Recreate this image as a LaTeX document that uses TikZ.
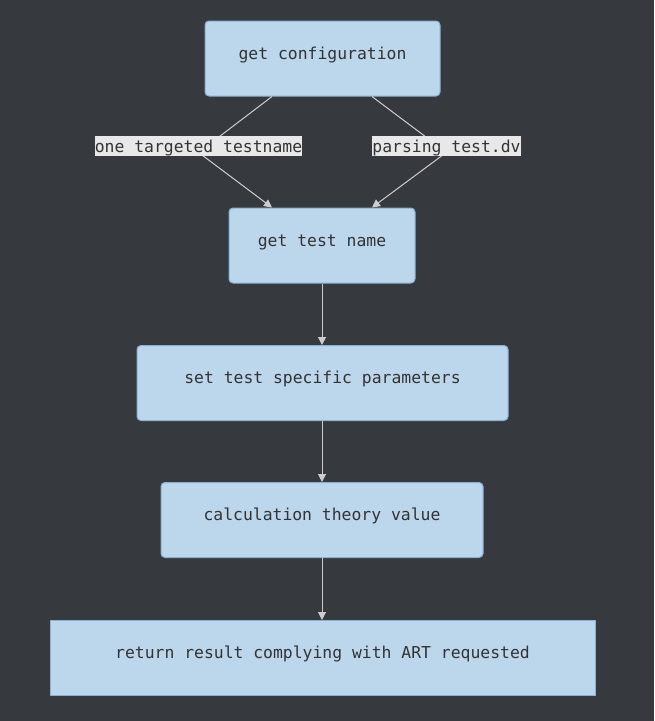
\documentclass[tikz,border=0pt]{standalone}
\usepackage{fontspec}
\newfontfamily\diagmono{DejaVu Sans Mono}
\usetikzlibrary{arrows.meta}
\definecolor{bgc}{RGB}{54,57,62}
\definecolor{boxfill}{RGB}{188,214,236}
\definecolor{boxline}{RGB}{140,176,212}
\definecolor{txtc}{RGB}{51,51,51}
\definecolor{edgec}{RGB}{205,205,205}
\definecolor{lblfill}{RGB}{232,232,232}
\tikzset{
  box/.style={draw=boxline, line width=1pt, fill=boxfill, rounded corners=4pt,
    text=txtc, font=\diagmono\fontsize{16.4}{18}\selectfont, inner sep=0pt,
    text height=12pt, text depth=11pt, minimum height=75pt},
  sqbox/.style={box, rounded corners=0pt},
  lbl/.style={fill=lblfill, text=txtc, font=\diagmono\fontsize{16.4}{18}\selectfont,
    inner sep=0pt, minimum height=20pt, text height=14pt, text depth=2pt},
  edge/.style={draw=edgec, line width=1pt},
  arr/.style={edge, -{Triangle[width=8pt,length=8pt]}}
}
\begin{document}
\begin{tikzpicture}[x=1pt,y=-1pt]
\fill[bgc] (0,0) rectangle (654,721);
\useasboundingbox (0,0) rectangle (654,721);

\node[box, minimum width=235pt] (gc) at (322.5,58.5) {get configuration};
\node[box, minimum width=186pt] (gtn) at (322,245.5) {get test name};
\node[box, minimum width=371pt] (stp) at (322.5,383) {set test specific parameters};
\node[box, minimum width=322pt] (ctv) at (322,520) {calculation theory value};
\node[sqbox, minimum width=545pt] (rr) at (322.5,658) {return result complying with ART requested};

\coordinate (c1) at (207,146);
\coordinate (c2) at (190,146);
\coordinate (c3) at (438,146);
\coordinate (c4) at (455,146);

\draw[edge] (gc.south -| 272,0) -- (c1);
\draw[arr] (c2) -- (gtn.north -| 272,0);
\draw[edge] (gc.south -| 372,0) -- (c3);
\draw[arr] (c4) -- (gtn.north -| 372,0);

\node[lbl, minimum width=207pt] (l1) at (198.5,146) {one targeted testname};
\node[lbl, minimum width=149pt] (l2) at (446.5,146) {parsing test.dv};

\draw[arr] (gtn.south -| 322,0) -- (stp.north -| 322,0);
\draw[arr] (stp.south -| 322,0) -- (ctv.north -| 322,0);
\draw[arr] (ctv.south -| 322,0) -- (rr.north -| 322,0);
\end{tikzpicture}
\end{document}
